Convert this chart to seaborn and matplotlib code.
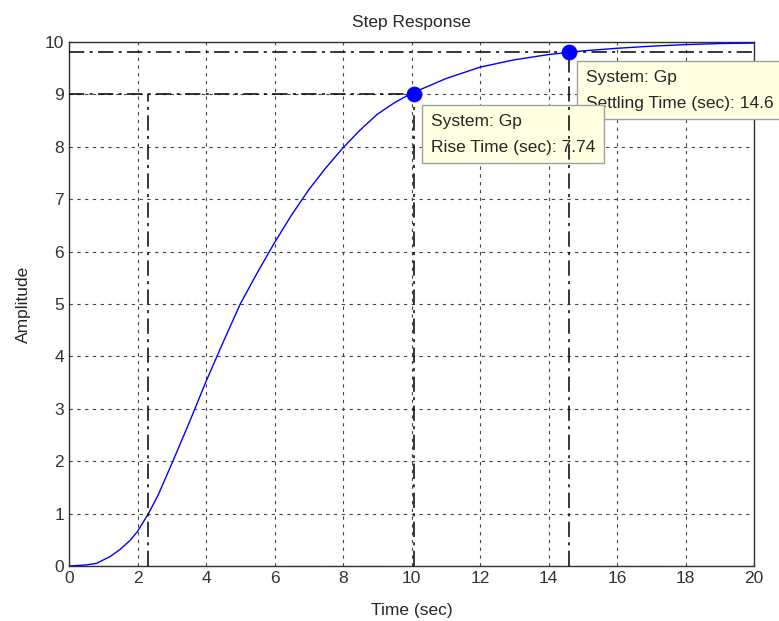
import numpy as np
import pandas as pd
import matplotlib
matplotlib.use("Agg")
import matplotlib.pyplot as plt
import seaborn as sns

# step response
TIME = [0, 0.5, 0.8, 1.2, 1.5, 1.8, 2.0, 2.32, 2.6, 3.0, 3.5, 4.0, 4.5, 5.0,
        5.5, 6.0, 6.5, 7.0, 7.5, 8.0, 8.5, 9.0, 9.5, 10.0, 11.0, 12.0, 13.0,
        14.0, 15.0, 16.0, 17.0, 18.0, 19.0, 20.0]
AMPLITUDE = [0, 0.02, 0.05, 0.18, 0.32, 0.5, 0.66, 1.0, 1.35, 1.95, 2.72,
             3.52, 4.27, 5.0, 5.6, 6.17, 6.7, 7.18, 7.6, 7.98, 8.32, 8.62,
             8.84, 9.02, 9.3, 9.52, 9.66, 9.76, 9.83, 9.88, 9.92, 9.95, 9.97,
             9.98]

# characteristic points
RISE_LOW_T = 2.32
RISE_HIGH_T = 10.06
RISE_HIGH_Y = 9.0
RISE_TIME = 7.74
SETTLE_T = 14.6
SETTLE_Y = 9.8

X_TICKS = list(range(0, 21, 2))
Y_TICKS = list(range(0, 11, 1))

FONT = ["Liberation Sans", "DejaVu Sans"]
FS = 12.5
DASHDOT = (0, (10, 3.5, 2, 3.5))


def main():
    sns.set_style("white")
    plt.rcParams["font.family"] = FONT

    fig = plt.figure(figsize=(7.79, 6.21), dpi=100)
    ax = fig.add_axes([69 / 779, 55 / 621, 685 / 779, 524 / 621])

    df = pd.DataFrame({"Time": TIME, "Amplitude": AMPLITUDE})
    sns.lineplot(data=df, x="Time", y="Amplitude", ax=ax, color="#0000FF",
                 linewidth=1.0, zorder=5)

    pts = pd.DataFrame({"t": [RISE_HIGH_T, SETTLE_T], "y": [RISE_HIGH_Y, SETTLE_Y]})
    sns.scatterplot(data=pts, x="t", y="y", ax=ax, color="#0000FF", s=110,
                    edgecolor="#0000FF", zorder=8, legend=False)

    # rise time / settling time guide lines
    kw = dict(color="black", linewidth=1.1, linestyle=DASHDOT, zorder=7)
    ax.plot([0, RISE_HIGH_T], [RISE_HIGH_Y, RISE_HIGH_Y], **kw)
    ax.plot([RISE_HIGH_T, RISE_HIGH_T], [0, RISE_HIGH_Y], **kw)
    ax.plot([RISE_LOW_T, RISE_LOW_T], [0, RISE_HIGH_Y], **kw)
    ax.plot([0, 20], [SETTLE_Y, SETTLE_Y], **kw)
    ax.plot([SETTLE_T, SETTLE_T], [0, SETTLE_Y], **kw)

    box = dict(boxstyle="square,pad=0.5", facecolor="#FFFFE1", edgecolor="#A0A0A0",
               linewidth=1.0)
    ax.text(15.1, 9.08, "System: Gp\nSettling Time (sec): %.1f" % SETTLE_T,
            ha="left", va="center", fontsize=FS, linespacing=1.9, bbox=box,
            zorder=4, clip_on=False)
    ax.text(10.57, 8.24, "System: Gp\nRise Time (sec): %.2f" % RISE_TIME,
            ha="left", va="center", fontsize=FS, linespacing=1.9, bbox=box,
            zorder=6)

    ax.set_xlim(0, 20)
    ax.set_ylim(0, 10)
    ax.set_xticks(X_TICKS)
    ax.set_yticks(Y_TICKS)
    ax.grid(True, color="#444444", linestyle=(0, (3, 4)), linewidth=0.8)
    ax.set_axisbelow(True)
    ax.tick_params(direction="in", length=4, labelsize=FS, colors="#333333",
                   labelcolor="#333333")
    for s in ax.spines.values():
        s.set_color("#303030")
        s.set_linewidth(1.0)

    ax.set_title("Step Response", fontsize=FS, pad=11)
    ax.set_xlabel("Time (sec)", fontsize=FS, labelpad=12)
    ax.set_ylabel("Amplitude", fontsize=FS, labelpad=10)

    fig.savefig("out.png", dpi=100)
    plt.close(fig)


if __name__ == "__main__":
    main()
